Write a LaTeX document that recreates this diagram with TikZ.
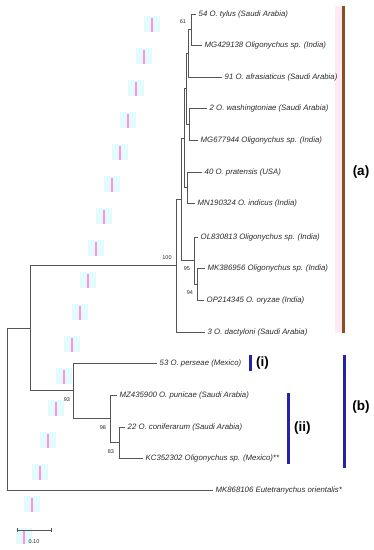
\documentclass[tikz,border=0pt]{standalone}
\usepackage{fontspec}
\setmainfont{Liberation Sans}
\definecolor{treegray}{HTML}{555555}
\definecolor{txtgray}{HTML}{2A2A2A}
\definecolor{artcyan}{HTML}{E2FCFC}
\definecolor{artpink}{HTML}{FF8FE8}
\definecolor{barbrown}{HTML}{8E4E1E}
\definecolor{barpink}{HTML}{FDEAF3}
\definecolor{barblue}{HTML}{2424A8}
\begin{document}
\begin{tikzpicture}[x=1pt,y=-1pt,
  br/.style={draw=treegray,line width=0.7pt},
  leaf/.style={anchor=west,inner sep=0pt,xshift=2.5pt,font=\fontsize{7.8}{9}\selectfont\itshape,text=txtgray},
  boot/.style={inner sep=0pt,font=\fontsize{5.5}{6.5}\selectfont,text=txtgray},
  clab/.style={inner sep=0pt,font=\fontsize{13.5}{15}\selectfont\bfseries,text=black},
  cbar/.style={line width=3pt,draw=barblue}]
\useasboundingbox (0,0) rectangle (373,550);
% background strip beside clade (a) bar
\fill[barpink] (335,6) rectangle (342,333);
% scan artefacts
\foreach \k in {0,...,16} {
  \fill[artcyan] ({144-8*\k},{16+32*\k}) rectangle +(16,16);
  \fill[artpink] ({151-8*\k},{18+32*\k}) rectangle +(2,14);
}
% leaf tips
\coordinate (L1) at (196,14);
\coordinate (L2) at (202,45);
\coordinate (L3) at (222,77);
\coordinate (L4) at (207,108);
\coordinate (L5) at (198,140);
\coordinate (L6) at (202,172);
\coordinate (L7) at (195,203);
\coordinate (L8) at (198,237);
\coordinate (L9) at (205,268);
\coordinate (L10) at (204,300);
\coordinate (L11) at (205,332);
\coordinate (L12) at (157,363);
\coordinate (L13) at (117,395);
\coordinate (L14) at (125,427);
\coordinate (L15) at (143,458);
\coordinate (L16) at (213,490);
% internal nodes
\coordinate (n61) at (191,29.5);
\coordinate (nA1) at (188,53.25);
\coordinate (nW) at (189,124);
\coordinate (nA2) at (186,88.6);
\coordinate (nP) at (187,187.5);
\coordinate (nA3) at (184,138);
\coordinate (n94) at (197,284);
\coordinate (n95) at (194,260.5);
\coordinate (nA4) at (181,199);
\coordinate (n100) at (176,265.5);
\coordinate (n83) at (119,442.5);
\coordinate (n98) at (110,418.75);
\coordinate (n93) at (73,390.4);
\coordinate (nB) at (30,327.9);
\coordinate (root) at (7,409);
% branches
\draw[br] (n61) |- (L1) (n61) |- (L2);
\draw[br] (nA1) |- (n61) (nA1) |- (L3);
\draw[br] (nW) |- (L4) (nW) |- (L5);
\draw[br] (nA2) |- (nA1) (nA2) |- (nW);
\draw[br] (nP) |- (L6) (nP) |- (L7);
\draw[br] (nA3) |- (nA2) (nA3) |- (nP);
\draw[br] (n94) |- (L9) (n94) |- (L10);
\draw[br] (n95) |- (L8) (n95) |- (n94);
\draw[br] (nA4) |- (nA3) (nA4) |- (n95);
\draw[br] (n100) |- (nA4) (n100) |- (L11);
\draw[br] (n83) |- (L14) (n83) |- (L15);
\draw[br] (n98) |- (L13) (n98) |- (n83);
\draw[br] (n93) |- (L12) (n93) |- (n98);
\draw[br] (nB) |- (n100) (nB) |- (n93);
\draw[br] (root) |- (nB) (root) |- (L16);
% leaf labels
\node[leaf] (t1) at (L1) {54 O. tylus (Saudi Arabia)};
\node[leaf] (t2) at (L2) {MG429138 Oligonychus sp. (India)};
\node[leaf] (t3) at (L3) {91 O. afrasiaticus (Saudi Arabia)};
\node[leaf] (t4) at (L4) {2 O. washingtoniae (Saudi Arabia)};
\node[leaf] (t5) at (L5) {MG677944 Oligonychus sp. (India)};
\node[leaf] (t6) at (L6) {40 O. pratensis (USA)};
\node[leaf] (t7) at (L7) {MN190324 O. indicus (India)};
\node[leaf] (t8) at (L8) {OL830813 Oligonychus sp. (India)};
\node[leaf] (t9) at (L9) {MK386956 Oligonychus sp. (India)};
\node[leaf] (t10) at (L10) {OP214345 O. oryzae (India)};
\node[leaf] (t11) at (L11) {3 O. dactyloni (Saudi Arabia)};
\node[leaf] (t12) at (L12) {53 O. perseae (Mexico)};
\node[leaf] (t13) at (L13) {MZ435900 O. punicae (Saudi Arabia)};
\node[leaf] (t14) at (L14) {22 O. coniferarum (Saudi Arabia)};
\node[leaf] (t15) at (L15) {KC352302 Oligonychus sp. (Mexico)**};
\node[leaf] (t16) at (L16) {MK868106 Eutetranychus orientalis*};
% bootstrap values
\node[boot] (b61) at (183,22) {61};
\node[boot] (b100) at (167,258) {100};
\node[boot] (b95) at (187,269) {95};
\node[boot] (b94) at (190,293) {94};
\node[boot] (b93) at (67,400) {93};
\node[boot] (b98) at (103,428) {98};
\node[boot] (b83) at (111,452) {83};
% clade bars
\coordinate (atop) at (343.5,6);
\coordinate (abot) at (343.5,333);
\draw[line width=3pt,draw=barbrown] (atop) -- (abot);
\node[clab] (la) at (361,172) {(a)};
\coordinate (itop) at (250,355);
\coordinate (ibot) at (250,371);
\draw[cbar] (itop) -- (ibot);
\node[clab,anchor=west] (li) at (256,363) {(i)};
\coordinate (iitop) at (288,393);
\coordinate (iibot) at (288,464);
\draw[cbar] (iitop) -- (iibot);
\node[clab,anchor=west] (lii) at (294,428) {(ii)};
\coordinate (btop) at (344,355);
\coordinate (bbot) at (344,468);
\draw[cbar] (btop) -- (bbot);
\node[clab] (lb) at (361,407) {(b)};
% scale bar
\coordinate (s1) at (17,530);
\coordinate (s2) at (51,530);
\draw[br] (s1) -- (s2);
\draw[br] ([yshift=-2pt]s1) -- ([yshift=2pt]s1);
\draw[br] ([yshift=-2pt]s2) -- ([yshift=2pt]s2);
\node[boot] (sl) at (34,542) {0.10};
\end{tikzpicture}
\end{document}
